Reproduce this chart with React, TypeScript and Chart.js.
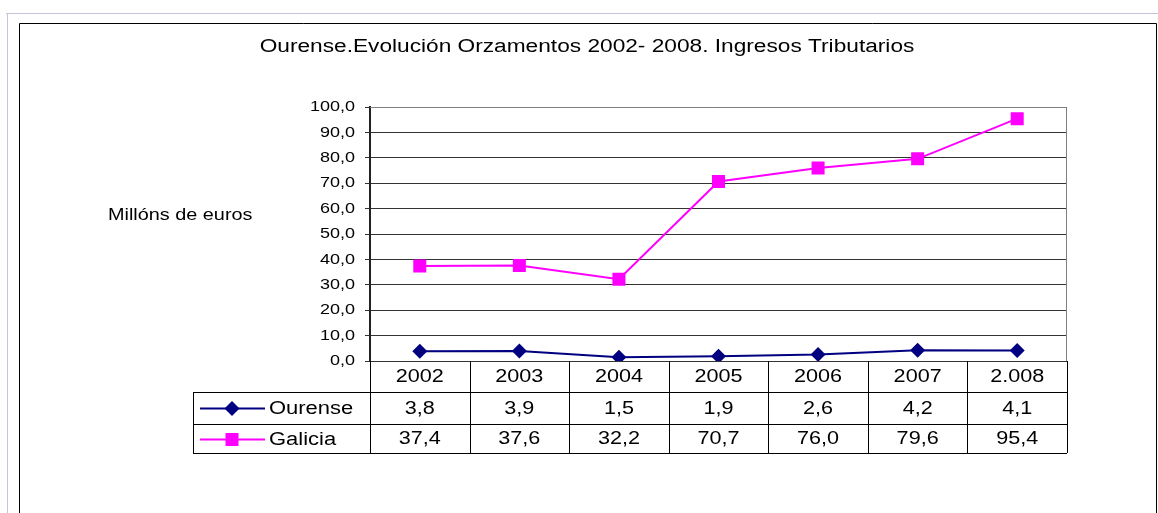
import React, { useEffect, useRef } from "react";
import { Chart, registerables } from "chart.js";

Chart.register(...registerables);

const categories = ["2002", "2003", "2004", "2005", "2006", "2007", "2.008"];
const ourense = [3.8, 3.9, 1.5, 1.9, 2.6, 4.2, 4.1];
const galicia = [37.4, 37.6, 32.2, 70.7, 76.0, 79.6, 95.4];
const seriesNames = ["Ourense", "Galicia"];
const titleText = "Ourense.Evolución Orzamentos 2002- 2008. Ingresos Tributarios";
const yAxisLabel = "Millóns de euros";

const FONT = "'Liberation Sans', Arial, sans-serif";
const fmt = (v: number) => v.toFixed(1).replace(".", ",");

function drawText(
  ctx: CanvasRenderingContext2D,
  text: string,
  x: number,
  y: number,
  size: number,
  align: CanvasTextAlign,
  stretch: number
) {
  ctx.save();
  ctx.translate(x, y);
  ctx.scale(stretch, 1);
  ctx.font = `${size}px ${FONT}`;
  ctx.textAlign = align;
  ctx.textBaseline = "middle";
  ctx.fillStyle = "#000";
  ctx.fillText(text, 0, 0);
  ctx.restore();
}

const framePlugin = {
  id: "frameAndTable",
  beforeDraw(chart: any) {
    const ctx = chart.ctx;
    ctx.save();
    ctx.fillStyle = "#fff";
    ctx.fillRect(0, 0, chart.width, chart.height);
    // outer frame
    ctx.strokeStyle = "#c8c4dc";
    ctx.lineWidth = 1;
    ctx.beginPath();
    ctx.moveTo(6, 13.5);
    ctx.lineTo(chart.width, 13.5);
    ctx.moveTo(7.5, 13);
    ctx.lineTo(7.5, chart.height);
    ctx.stroke();
    // inner box
    ctx.strokeStyle = "#000";
    ctx.beginPath();
    ctx.moveTo(19.5, chart.height);
    ctx.lineTo(19.5, 23.5);
    ctx.lineTo(1156.5, 23.5);
    ctx.lineTo(1156.5, chart.height);
    ctx.stroke();
    ctx.restore();
  },
  afterDraw(chart: any) {
    const ctx = chart.ctx;
    const area = chart.chartArea;
    const n = categories.length;
    const colW = (area.right - area.left) / n;
    const rowTops = [area.bottom, area.bottom + 31, area.bottom + 63, area.bottom + 92];
    const legendLeft = 193;
    ctx.save();
    // title and axis label
    drawText(ctx, titleText, 587, 47, 18, "center", 1.26);
    drawText(ctx, yAxisLabel, 108, 216, 16, "left", 1.24);

    // y tick labels
    const ys = chart.scales.y;
    ys.ticks.forEach((t: any) => {
      drawText(ctx, fmt(t.value), 355, ys.getPixelForValue(t.value), 15, "right", 1.2);
    });

    // plot border (top/right)
    ctx.strokeStyle = "#808080";
    ctx.lineWidth = 1;
    ctx.beginPath();
    ctx.moveTo(area.left, Math.round(area.top) + 0.5);
    ctx.lineTo(Math.round(area.right) - 0.5, Math.round(area.top) + 0.5);
    ctx.lineTo(Math.round(area.right) - 0.5, area.bottom);
    ctx.stroke();

    // table lines
    ctx.strokeStyle = "#000";
    ctx.beginPath();
    for (let i = 0; i <= n; i++) {
      const x = Math.round(area.left + i * colW) + 0.5;
      ctx.moveTo(x, rowTops[0]);
      ctx.lineTo(x, rowTops[3]);
    }
    for (let r = 1; r <= 3; r++) {
      const y = Math.round(rowTops[r]) + 0.5;
      ctx.moveTo(legendLeft, y);
      ctx.lineTo(area.right, y);
    }
    ctx.moveTo(legendLeft + 0.5, rowTops[1]);
    ctx.lineTo(legendLeft + 0.5, rowTops[3]);
    ctx.stroke();

    // header and values
    const xs = chart.scales.x;
    categories.forEach((c, i) => {
      drawText(ctx, c, xs.getPixelForValue(i), (rowTops[0] + rowTops[1]) / 2 + 1, 18, "center", 1.2);
    });
    const rows = [ourense, galicia];
    rows.forEach((vals, r) => {
      const cy = (rowTops[r + 1] + rowTops[r + 2]) / 2 + 1;
      vals.forEach((v, i) => {
        drawText(ctx, fmt(v), xs.getPixelForValue(i), cy, 18, "center", 1.2);
      });
    });

    // legend keys
    const colors = ["#000080", "#ff00ff"];
    rows.forEach((_, r) => {
      const cy = Math.round((rowTops[r + 1] + rowTops[r + 2]) / 2) + 0.5;
      ctx.strokeStyle = colors[r];
      ctx.lineWidth = 2;
      ctx.beginPath();
      ctx.moveTo(200, cy);
      ctx.lineTo(265, cy);
      ctx.stroke();
      ctx.fillStyle = colors[r];
      const mx = 232;
      if (r === 0) {
        ctx.beginPath();
        ctx.moveTo(mx, cy - 7.5);
        ctx.lineTo(mx + 7.5, cy);
        ctx.lineTo(mx, cy + 7.5);
        ctx.lineTo(mx - 7.5, cy);
        ctx.closePath();
        ctx.fill();
      } else {
        ctx.fillRect(mx - 6.5, cy - 6.5, 13, 13);
      }
      drawText(ctx, seriesNames[r], 269, cy + 1, 18, "left", 1.22);
    });
    ctx.restore();
  },
};

export default function App() {
  const ref = useRef<HTMLCanvasElement | null>(null);
  useEffect(() => {
    document.body.style.margin = "0";
    const canvas = ref.current!;
    const chart = new Chart(canvas, {
      type: "line",
      data: {
        labels: categories,
        datasets: [
          {
            label: seriesNames[0],
            data: ourense,
            borderColor: "#000080",
            backgroundColor: "#000080",
            borderWidth: 2,
            pointStyle: "rectRot",
            pointRadius: 7.5,
            pointHoverRadius: 7.5,
            pointBorderWidth: 0,
            tension: 0,
          },
          {
            label: seriesNames[1],
            data: galicia,
            borderColor: "#ff00ff",
            backgroundColor: "#ff00ff",
            borderWidth: 2,
            pointStyle: "rect",
            pointRadius: 9.2,
            pointHoverRadius: 9.2,
            pointBorderWidth: 0,
            tension: 0,
          },
        ],
      },
      options: {
        animation: false,
        responsive: false,
        events: [],
        layout: { padding: { left: 300, top: 107, right: 91, bottom: 152 } },
        plugins: {
          legend: { display: false },
          title: { display: false },
          tooltip: { enabled: false },
        },
        scales: {
          x: {
            type: "category",
            offset: true,
            display: false,
          },
          y: {
            min: 0,
            max: 100,
            afterFit: (s: any) => {
              s.width = 70;
            },
            ticks: {
              stepSize: 10,
              display: false,
            },
            grid: {
              color: "#333",
              lineWidth: 1,
              tickLength: 5,
              drawTicks: true,
            },
            border: { color: "#222", width: 2 },
          },
        },
      },
      plugins: [framePlugin],
    });
    return () => chart.destroy();
  }, []);
  return (
    <div style={{ width: 1158, height: 513, position: "relative" }}>
      <canvas ref={ref} width={1158} height={513} style={{ display: "block" }} />
    </div>
  );
}
